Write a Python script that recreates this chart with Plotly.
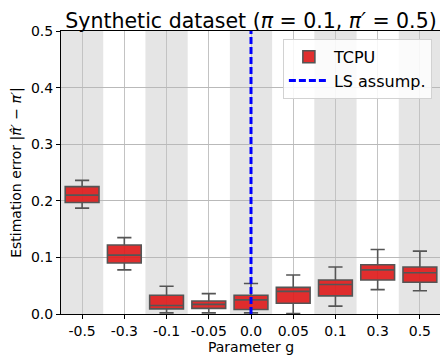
import plotly.graph_objects as go

categories = ["-0.5", "-0.3", "-0.1", "-0.05", "0.0", "0.05", "0.1", "0.3", "0.5"]
lower_whisker = [0.187, 0.078, 0.002, 0.002, 0.002, 0.001, 0.014, 0.043, 0.041]
q1_values = [0.197, 0.090, 0.009, 0.010, 0.008, 0.019, 0.032, 0.060, 0.056]
median_values = [0.210, 0.104, 0.015, 0.017, 0.025, 0.040, 0.052, 0.078, 0.073]
q3_values = [0.225, 0.122, 0.033, 0.023, 0.033, 0.047, 0.060, 0.087, 0.083]
upper_whisker = [0.236, 0.135, 0.049, 0.036, 0.054, 0.069, 0.083, 0.114, 0.111]
ls_assumption_g = "0.0"
y_limits = [0.0, 0.5]
y_ticks = [0.0, 0.1, 0.2, 0.3, 0.4, 0.5]

FONT = "DejaVu Sans"

fig = go.Figure()

fig.add_trace(go.Box(
    name="TCPU",
    x=categories,
    q1=q1_values,
    median=median_values,
    q3=q3_values,
    lowerfence=lower_whisker,
    upperfence=upper_whisker,
    fillcolor="rgba(222,28,28,0.92)",
    line=dict(color="rgb(85,85,85)", width=1.6),
    width=0.8,
    whiskerwidth=0.42,
    boxpoints=False,
    showlegend=True,
))

fig.add_trace(go.Scatter(
    name="LS assump.",
    x=[ls_assumption_g, ls_assumption_g],
    y=y_limits,
    mode="lines",
    line=dict(color="#0000ff", width=3, dash="7px,3px"),
    showlegend=True,
))

shapes = []
for i in range(0, len(categories), 2):
    shapes.append(dict(
        type="rect", xref="x", yref="paper",
        x0=i - 0.5, x1=i + 0.5, y0=0, y1=1,
        fillcolor="rgb(229,229,229)", line=dict(width=0), layer="below",
    ))

# page has an 8px body margin, so the figure is sized/margined to compensate
fig.update_layout(
    width=440, height=354,
    margin=dict(l=53, r=7, t=23, b=48),
    paper_bgcolor="white",
    plot_bgcolor="white",
    font=dict(family=FONT, size=14, color="black"),
    title=dict(
        text="Synthetic dataset (<i>π</i> = 0.1, <i>π′</i> = 0.5)",
        x=0.5, xref="paper", xanchor="center",
        y=1, yref="paper", yanchor="bottom", pad=dict(b=3),
        font=dict(family=FONT, size=20.5, color="black"),
    ),
    shapes=shapes,
    showlegend=True,
    legend=dict(
        x=0.976, y=0.972, xanchor="right", yanchor="top",
        bgcolor="rgba(255,255,255,0.85)",
        bordercolor="rgb(210,210,210)", borderwidth=1,
        font=dict(family=FONT, size=16, color="black"),
        tracegroupgap=2,
        itemwidth=40,
    ),
    boxmode="overlay",
)

fig.update_xaxes(
    type="category",
    categoryorder="array", categoryarray=categories,
    range=[-0.5, len(categories) - 0.5],
    showgrid=True, gridcolor="rgb(195,195,195)", gridwidth=1,
    showline=True, linecolor="black", linewidth=1, mirror=True,
    ticks="outside", ticklen=4, tickcolor="black",
    title=dict(text="Parameter g", font=dict(family=FONT, size=14), standoff=4),
    layer="above traces",
    zeroline=False,
)

fig.update_yaxes(
    range=y_limits,
    tickvals=y_ticks, tickformat=".1f",
    showgrid=True, gridcolor="rgb(185,185,185)", gridwidth=1,
    showline=True, linecolor="black", linewidth=1, mirror=True,
    ticks="outside", ticklen=4, tickcolor="black",
    title=dict(text="Estimation error |<i>π̂′</i> − <i>π′</i>|", font=dict(family=FONT, size=14), standoff=6),
    layer="above traces",
    zeroline=False,
)

fig.write_html("out.html")
